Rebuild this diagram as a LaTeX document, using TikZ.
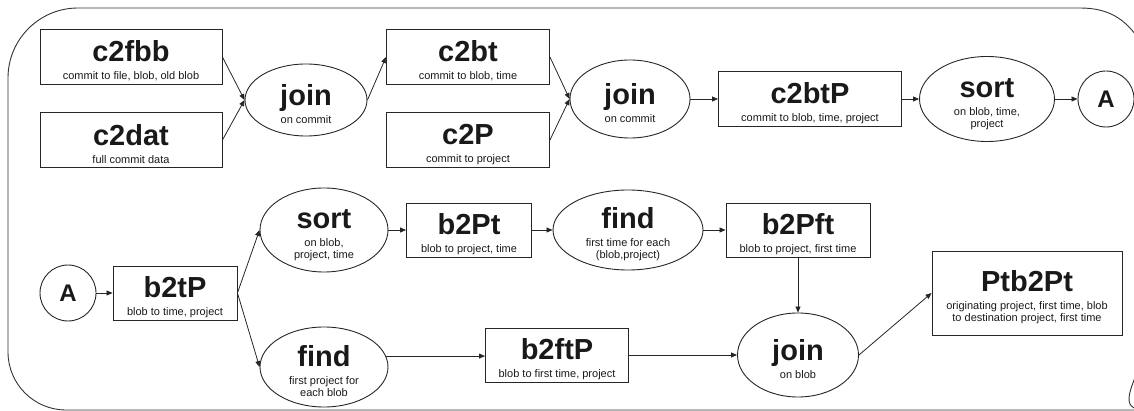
\documentclass[tikz,border=0pt]{standalone}
\usepackage{fontspec}
\setmainfont{Liberation Sans}
\usetikzlibrary{shapes.geometric,arrows.meta}
\lineskiplimit=-\maxdimen
\newcommand{\tbl}[2]{{\fontsize{29}{29}\selectfont\bfseries\rule{0pt}{29pt}#1}\\[6pt]#2}
\begin{document}
\begin{tikzpicture}[x=1pt, y=-1pt,
    box/.style={draw=black!85, line width=0.9pt, rectangle, inner sep=0pt, align=center, text=black!90, font=\fontsize{11}{12}\selectfont},
    oval/.style={draw=black!85, line width=0.9pt, ellipse, inner sep=-4pt, align=center, text=black!90, font=\fontsize{11}{12}\selectfont},
    flow/.style={-{Triangle[length=6pt,width=5pt]}, line width=0.8pt, draw=black!85}]
    \useasboundingbox (0,0) rectangle (1134,411);
    \clip (0,0) rectangle (1134,411);

    % 绘制外框
    \draw[draw=black!80, line width=0.9pt] (560,8) [rounded corners=70pt] -- (8,8) -- (8,200)
        [rounded corners=58pt] -- (8,410) -- (1088,410)
        [sharp corners] .. controls (1116,410) and (1132,388) .. (1146,350)
        -- (1190,200) -- (1146,52)
        .. controls (1130,20) and (1110,8) .. (1080,8) -- cycle;

    % 绘制第一行
    \node[box, minimum width=182pt, minimum height=55pt] (c2fbb) at (131,57) {\tbl{c2fbb}{commit to file, blob, old blob}};
    \node[box, minimum width=182pt, minimum height=55pt] (c2dat) at (131,140) {\tbl{c2dat}{full commit data}};
    \node[oval, minimum width=122pt, minimum height=72pt] (join1) at (306,100) {\tbl{join}{on commit}};
    \node[box, minimum width=163pt, minimum height=55pt] (c2bt) at (468,57) {\tbl{c2bt}{commit to blob, time}};
    \node[box, minimum width=163pt, minimum height=55pt] (c2P) at (468,140) {\tbl{c2P}{commit to project}};
    \node[oval, minimum width=120pt, minimum height=78pt] (join2) at (630,99) {\tbl{join}{on commit}};
    \node[box, minimum width=183pt, minimum height=55pt] (c2btP) at (810,99) {\tbl{c2btP}{commit to blob, time, project}};
    \node[oval, minimum width=135pt, minimum height=85pt] (sort1) at (987,99) {\tbl{sort}{on blob, time,\\project}};
    \node[oval, circle, inner sep=0pt, minimum size=56pt] (A1) at (1106,99) {\fontsize{24}{24}\selectfont\bfseries A};

    % 绘制第二行
    \node[oval, circle, inner sep=0pt, minimum size=56pt] (A2) at (68,293) {\fontsize{24}{24}\selectfont\bfseries A};
    \node[box, minimum width=124pt, minimum height=54pt] (b2tP) at (175,293) {\tbl{b2tP}{blob to time, project}};
    \node[oval, minimum width=128pt, minimum height=84pt] (sort2) at (324,230) {\tbl{sort}{on blob,\\project, time}};
    \node[oval, minimum width=128pt, minimum height=80pt] (find1) at (324,367) {\tbl{find}{first project for\\each blob}};
    \node[box, minimum width=125pt, minimum height=54pt] (b2Pt) at (469,230) {\tbl{b2Pt}{blob to project, time}};
    \node[oval, minimum width=150pt, minimum height=80pt] (find2) at (628,230) {\tbl{find}{first time for each\\(blob,project)}};
    \node[box, minimum width=144pt, minimum height=54pt] (b2Pft) at (798,230) {\tbl{b2Pft}{blob to project, first time}};
    \node[box, minimum width=143pt, minimum height=54pt] (b2ftP) at (557,355) {\tbl{b2ftP}{blob to first time, project}};
    \node[oval, minimum width=121pt, minimum height=84pt] (join3) at (798,355) {\tbl{join}{on blob}};
    \node[box, minimum width=190pt, minimum height=84pt] (Ptb2Pt) at (1027,293) {\tbl{Ptb2Pt}{originating project, first time, blob\\to destination project, first time}};

    % 绘制连接线
    \draw[flow] (c2fbb.east) -- (join1.west);
    \draw[flow] (c2dat.east) -- (join1.west);
    \draw[flow] (join1.east) -- (c2bt.west);
    \draw[flow] (c2bt.east) -- (join2.west);
    \draw[flow] (c2P.east) -- (join2.west);
    \draw[flow] (join2.east) -- (c2btP.west);
    \draw[flow] (c2btP.east) -- (sort1.west);
    \draw[flow] (sort1.east) -- (A1.west);

    \draw[flow] (A2.east) -- (b2tP.west);
    \draw[flow] (b2tP.east) -- (sort2.west);
    \draw[flow] (b2tP.east) -- (find1.west);
    \draw[flow] (sort2.east) -- (b2Pt.west);
    \draw[flow] (b2Pt.east) -- (find2.west);
    \draw[flow] (find2.east) -- (b2Pft.west);
    \draw[flow] (find1.10) -- (find1.10 -| b2ftP.west);
    \draw[flow] (b2ftP.east) -- (join3.west);
    \draw[flow] (b2Pft.south) -- (join3.north);
    \draw[flow] (join3.east) -- (Ptb2Pt.west);
\end{tikzpicture}
\end{document}
